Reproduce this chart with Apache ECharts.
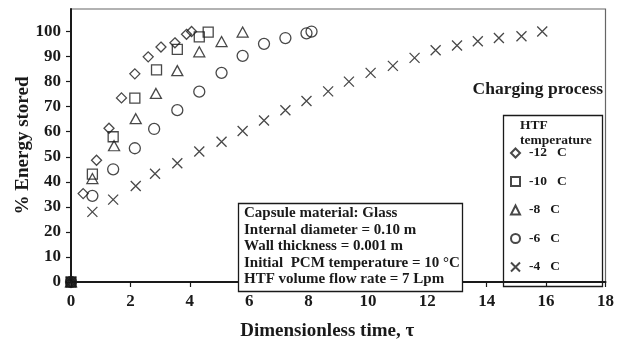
<!DOCTYPE html>
<html>
<head>
<meta charset="utf-8">
<script src="https://cdn.jsdelivr.net/npm/echarts@6/dist/echarts.min.js"></script>
<style>
html,body{margin:0;padding:0;background:#fff;}
#c{width:617px;height:346px;}
</style>
</head>
<body>
<div id="c"></div>
<script>
// Series data: [dimensionless time, % energy stored]
const seriesNames = ['-12   C', '-10   C', '-8   C', '-6   C', '-4   C'];
const htfM12 = [[0,0],[0.41,35.3],[0.86,48.6],[1.28,61.4],[1.70,73.5],[2.15,83.1],[2.60,89.9],[3.03,93.8],[3.50,95.5],[3.89,98.9],[4.06,100]];
const htfM10 = [[0,0],[0.72,43.1],[1.42,58.0],[2.15,73.4],[2.88,84.7],[3.58,92.9],[4.32,97.9],[4.62,99.8]];
const htfM8  = [[0,0],[0.72,41.3],[1.45,54.4],[2.18,65.2],[2.86,75.3],[3.58,84.4],[4.32,91.9],[5.07,96.0],[5.78,99.8]];
const htfM6  = [[0,0],[0.72,34.4],[1.42,45.0],[2.15,53.4],[2.80,61.1],[3.58,68.6],[4.32,76.0],[5.07,83.5],[5.78,90.3],[6.50,95.1],[7.22,97.4],[7.93,99.3],[8.10,100]];
const htfM4  = [[0,0],[0.72,28.0],[1.42,32.9],[2.18,38.3],[2.83,43.2],[3.58,47.4],[4.32,52.1],[5.07,56.0],[5.78,60.3],[6.50,64.5],[7.22,68.6],[7.93,72.3],[8.66,76.1],[9.36,80.0],[10.09,83.5],[10.84,86.3],[11.57,89.5],[12.28,92.5],[13.0,94.4],[13.7,96.1],[14.41,97.4],[15.17,98.1],[15.87,100]];
const xTicks = [0,2,4,6,8,10,12,14,16,18];
const yTicks = [0,10,20,30,40,50,60,70,80,90,100];
const infoLines = ['Capsule material: Glass','Internal diameter = 0.10 m','Wall thickness = 0.001 m','Initial  PCM temperature = 10 \u00b0C','HTF volume flow rate = 7 Lpm'];

const FONT = '"Liberation Serif","Times New Roman",serif';
const ink = '#1a1a1a';
const symbols = [
  'path://M5,0L10,5L5,10L0,5Z',
  'rect',
  'triangle',
  'circle',
  'path://M0,0L10,10M10,0L0,10'
];
const sizes = [[10,10],[10,10],[11,10],[11,11],[10,10]];
const datasets = [htfM12, htfM10, htfM8, htfM6, htfM4];

const series = datasets.map((d, i) => ({
  type: 'scatter',
  name: seriesNames[i],
  symbol: symbols[i],
  symbolSize: sizes[i],
  itemStyle: { color: 'rgba(255,255,255,0)', borderColor: ink, borderWidth: 1.3 },
  z: 3,
  data: d.map(p => (p[0] === 0 && i === 1)
    ? { value: p, itemStyle: { color: '#111', borderColor: '#111' } }
    : p)
}));

const chart = echarts.init(document.getElementById('c'), null, { renderer: 'canvas' });
chart.setOption({
  backgroundColor: '#fff',
  animation: false,
  textStyle: { fontFamily: FONT },
  grid: { left: 71, right: 10.5, top: 9, bottom: 55.3, show: true, borderColor: '#666', borderWidth: 1.2, containLabel: false },
  xAxis: {
    type: 'value', min: 0, max: 18, interval: 2,
    axisLine: { show: true, onZero: false, lineStyle: { color: ink, width: 2 } },
    axisTick: { show: true, inside: false, length: 5, customValues: xTicks, lineStyle: { color: ink, width: 1.2 } },
    splitLine: { show: false },
    axisLabel: { color: ink, fontSize: 17, fontWeight: 'bold', fontFamily: FONT, margin: 11, customValues: xTicks },
    name: 'Dimensionless time, \u03c4', nameLocation: 'middle', nameGap: 40, nameMoveOverlap: false,
    nameTextStyle: { color: ink, fontSize: 19, fontWeight: 'bold', fontFamily: FONT, padding: [0, 22, 0, 0] }
  },
  yAxis: {
    type: 'value', min: 0, max: 109, interval: 10,
    axisLine: { show: true, onZero: false, lineStyle: { color: ink, width: 2 } },
    axisTick: { show: true, inside: false, length: 5, customValues: yTicks, lineStyle: { color: ink, width: 1.2 } },
    splitLine: { show: false },
    axisLabel: { color: ink, fontSize: 17, fontWeight: 'bold', fontFamily: FONT, margin: 10, customValues: yTicks },
    name: '% Energy stored', nameLocation: 'middle', nameGap: 38, nameRotate: 90, nameMoveOverlap: false,
    nameTextStyle: { color: ink, fontSize: 19, fontWeight: 'bold', fontFamily: FONT }
  },
  legend: {
    orient: 'vertical', left: 505, top: 141,
    itemWidth: 9, itemHeight: 9, itemGap: 14.5,
    textStyle: { color: ink, fontSize: 13.5, fontWeight: 'bold', fontFamily: FONT, padding: [0,0,0,4] },
    data: seriesNames
  },
  graphic: [
    { type: 'rect', z: 10, shape: { x: 503.5, y: 115.5, width: 99, height: 171 },
      style: { fill: 'rgba(0,0,0,0)', stroke: ink, lineWidth: 1.3 } },
    { type: 'text', z: 10, left: 520, top: 118,
      style: { text: 'HTF\ntemperature', font: 'bold 13.5px ' + FONT, fill: ink, lineHeight: 15 } },
    { type: 'text', z: 10, right: 14, top: 80,
      style: { text: 'Charging process', font: 'bold 17.5px ' + FONT, fill: ink } },
    { type: 'rect', z: 10, shape: { x: 238.5, y: 203.5, width: 224, height: 88 },
      style: { fill: '#fff', stroke: ink, lineWidth: 1.3 } },
    { type: 'text', z: 11, left: 244, top: 205,
      style: { text: infoLines.join('\n'), font: 'bold 15px ' + FONT, fill: ink, lineHeight: 16.5 } }
  ],
  series: series
});
</script>
</body>
</html>
